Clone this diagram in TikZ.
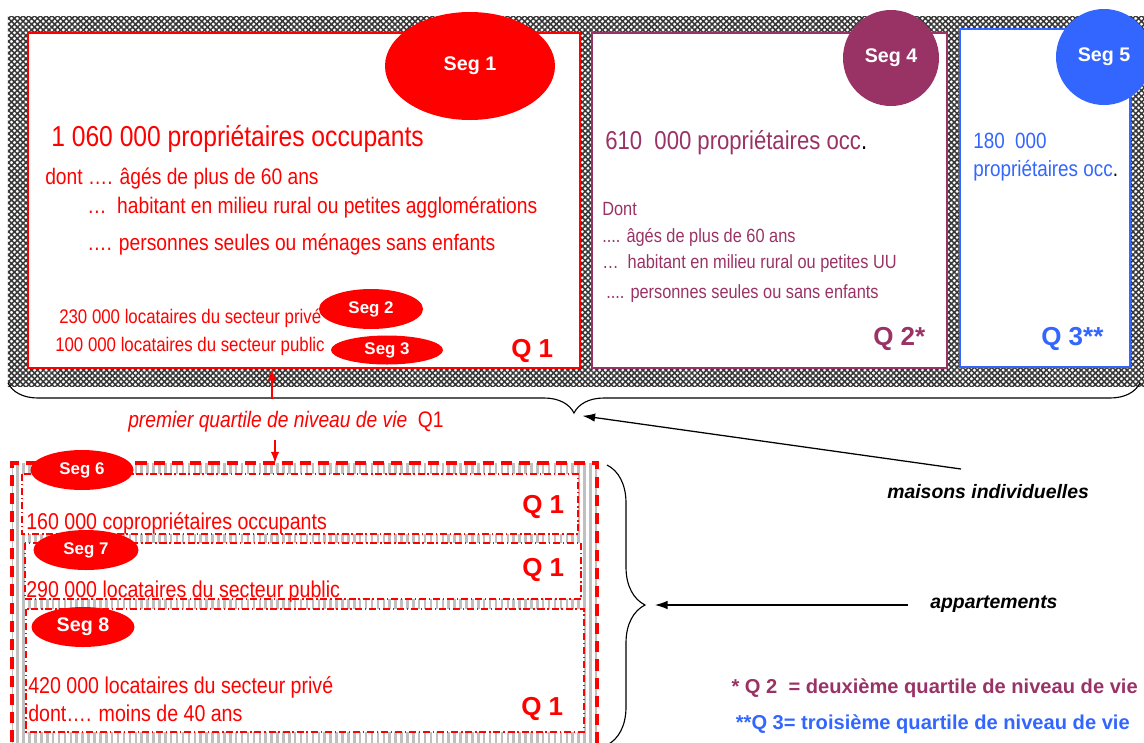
\documentclass[tikz,border=0pt]{standalone}
\usepackage{fontspec}
\setmainfont{Liberation Sans}
\newfontfamily\narrowfont[FakeStretch=0.855]{Liberation Sans}
\usepackage{xcolor}
\usepackage{tikz}
\usetikzlibrary{shapes.geometric,arrows.meta,decorations.pathreplacing,patterns.meta}
\definecolor{segred}{HTML}{FF0000}
\definecolor{segplum}{HTML}{993366}
\definecolor{segblue}{HTML}{3366FF}
\definecolor{stripegray}{HTML}{C0C0C0}
\tikzstyle{seg}=[shape=ellipse, inner sep=0pt, text=white, font=\bfseries]
\tikzstyle{red seg}=[seg, fill=segred]
\tikzstyle{plum seg}=[seg, fill=segplum]
\tikzstyle{blue seg}=[seg, fill=segblue]
\tikzstyle{label}=[anchor=base west, inner sep=0pt]
\tikzstyle{red label}=[label, text=segred]
\tikzstyle{plum label}=[label, text=segplum]
\tikzstyle{blue label}=[label, text=segblue]
\tikzstyle{quartile}=[label, font=\bfseries\fontsize{18.5}{22}\selectfont]
\tikzstyle{house band}=[fill=white, postaction={pattern={Hatch[angle=45, distance=2.9pt, line width=1.1pt]}, pattern color=black!78}]
\tikzstyle{flat band}=[fill=white, postaction={pattern={Lines[angle=90, distance=4.2pt, line width=1.8pt]}, pattern color=stripegray}]
\tikzstyle{flat border}=[draw=segred, line width=2.3pt, dash pattern=on 8pt off 5pt]
\tikzstyle{flat box}=[fill=white, draw=segred, line width=1.2pt, dash pattern=on 5pt off 2pt on 1pt off 2pt]
\tikzstyle{arrow edge}=[-{Latex[length=9pt, width=6pt]}, draw=black, line width=0.9pt]
\tikzstyle{red arrow edge}=[-{Latex[length=8pt, width=6pt]}, draw=segred, line width=0.9pt]
\tikzstyle{brace edge}=[draw=black, line width=0.8pt, decorate]
\pgfdeclarelayer{backlayer}
\pgfdeclarelayer{nodelayer}
\pgfdeclarelayer{edgelayer}
\pgfsetlayers{backlayer,nodelayer,edgelayer,main}

\begin{document}
\begin{tikzpicture}
        	\useasboundingbox (0, 0) rectangle (28.6, -18.55);
        	\begin{pgfonlayer}{backlayer}
        		% maisons individuelles
        		\draw [style=house band, draw=none] (0.2, -0.4) rectangle (28.6, -9.65);
        		\draw [fill=white, draw=segred, line width=1.9pt] (0.7, -0.825) rectangle (14.5, -9.2);
        		\draw [fill=white, draw=segplum, line width=1.5pt] (14.8, -0.825) rectangle (23.675, -9.2);
        		\draw [fill=white, draw=segblue, line width=1.8pt] (24.0, -0.725) rectangle (28.25, -9.175);
        		% appartements
        		\draw [style=flat band, draw=none] (0.3, -11.575) rectangle (14.925, -19.0);
        		\draw [style=flat border] (0.3, -19.0) -- (0.3, -11.575) -- (14.925, -11.575) -- (14.925, -19.0);
        		\draw [style=flat box] (0.55, -11.85) rectangle (14.45, -13.35);
        		\draw [style=flat box] (0.625, -13.575) rectangle (14.525, -14.975);
        		\draw [style=flat box] (0.65, -15.225) rectangle (14.6, -18.3);
        	\end{pgfonlayer}
        	\begin{pgfonlayer}{nodelayer}
        		\node [style=red seg, minimum width=4.25cm, minimum height=2.7cm, font=\bfseries\fontsize{14}{17}\selectfont] (0) at (11.75, -1.65) {Seg 1};
        		\node [style=red seg, minimum width=2.6cm, minimum height=1cm, font=\bfseries\fontsize{12}{14}\selectfont] (1) at (9.275, -7.725) {Seg 2};
        		\node [style=red seg, minimum width=2.8cm, minimum height=0.725cm, font=\bfseries\fontsize{12}{14}\selectfont] (2) at (9.675, -8.75) {Seg 3};
        		\node [style=plum seg, minimum width=2.4cm, minimum height=2.4cm, font=\bfseries\fontsize{14}{17}\selectfont] (3) at (22.275, -1.45) {Seg 4};
        		\node [style=blue seg, minimum width=2.4cm, minimum height=2.4cm, font=\bfseries\fontsize{14}{17}\selectfont] (4) at (27.6, -1.425) {Seg 5};
        		\node [style=red seg, minimum width=2.575cm, minimum height=1cm, font=\bfseries\fontsize{12}{14}\selectfont] (5) at (2.05, -11.75) {Seg 6};
        		\node [style=red seg, minimum width=2.625cm, minimum height=1cm, font=\bfseries\fontsize{12}{14}\selectfont] (6) at (2.15, -13.75) {Seg 7};
        		\node [style=red seg, minimum width=2.575cm, minimum height=1cm, font=\bfseries\fontsize{14}{17}\selectfont] (7) at (2.075, -15.675) {Seg 8};

        		\node [style=red label, font=\narrowfont\fontsize{20.5}{24}\selectfont] (10) at (1.275, -3.65) {1 060 000 propriétaires occupants};
        		\node [style=red label, font=\narrowfont\fontsize{16}{19}\selectfont] (11) at (1.125, -4.6) {dont …. âgés de plus de 60 ans};
        		\node [style=red label, font=\narrowfont\fontsize{16}{19}\selectfont] (12) at (2.175, -5.325) {…~ habitant en milieu rural ou petites agglomérations};
        		\node [style=red label, font=\narrowfont\fontsize{16}{19}\selectfont] (13) at (2.175, -6.25) {…. personnes seules ou ménages sans enfants};
        		\node [style=red label, font=\narrowfont\fontsize{14}{17}\selectfont] (14) at (1.475, -8.075) {230 000 locataires du secteur privé};
        		\node [style=red label, font=\narrowfont\fontsize{14}{17}\selectfont] (15) at (1.375, -8.775) {100 000 locataires du secteur public};
        		\node [style=quartile, text=segred] (16) at (12.775, -8.925) {Q 1};

        		\node [style=plum label, font=\narrowfont\fontsize{18.4}{22}\selectfont] (20) at (15.125, -3.725) {610~~000 propriétaires occ{\color{black}.}};
        		\node [style=plum label, font=\narrowfont\fontsize{13.6}{16}\selectfont] (21) at (15.05, -5.375) {Dont};
        		\node [style=plum label, font=\narrowfont\fontsize{13.6}{16}\selectfont] (22) at (15.05, -6.05) {.... âgés de plus de 60 ans};
        		\node [style=plum label, font=\narrowfont\fontsize{13.6}{16}\selectfont] (23) at (15.05, -6.7) {…~ habitant en milieu rural ou petites UU};
        		\node [style=plum label, font=\narrowfont\fontsize{13.6}{16}\selectfont] (24) at (15.15, -7.45) {.... personnes seules ou sans enfants};
        		\node [style=quartile, text=segplum] (25) at (21.825, -8.625) {Q 2*};

        		\node [style=blue label, font=\narrowfont\fontsize{15.7}{19}\selectfont] (30) at (24.325, -3.7) {180~~000};
        		\node [style=blue label, font=\narrowfont\fontsize{15.7}{19}\selectfont] (31) at (24.325, -4.4) {propriétaires occ{\color{black}.}};
        		\node [style=quartile, text=segblue] (32) at (26.025, -8.625) {Q 3**};

        		\node [style=red label, font=\narrowfont\fontsize{16}{19}\selectfont] (40) at (3.2, -10.675) {\itshape premier quartile de niveau de vie~ \upshape Q1};

        		\node [style=red label, font=\narrowfont\fontsize{16.3}{19}\selectfont] (50) at (0.65, -13.225) {160 000 copropriétaires occupants};
        		\node [style=quartile, text=segred] (51) at (13.05, -12.825) {Q 1};
        		\node [style=red label, font=\narrowfont\fontsize{16.3}{19}\selectfont] (52) at (0.65, -14.925) {290 000 locataires du secteur public};
        		\node [style=quartile, text=segred] (53) at (13.05, -14.4) {Q 1};
        		\node [style=red label, font=\narrowfont\fontsize{16.3}{19}\selectfont] (54) at (0.7, -17.325) {420 000 locataires du secteur privé};
        		\node [style=red label, font=\narrowfont\fontsize{16.3}{19}\selectfont] (55) at (0.7, -18.025) {dont…. moins de 40 ans};
        		\node [style=quartile, text=segred] (56) at (13.025, -17.875) {Q 1};

        		\node [style=label, font=\bfseries\itshape\fontsize{13.8}{17}\selectfont] (60) at (22.175, -12.45) {maisons individuelles};
        		\node [style=label, font=\bfseries\itshape\fontsize{13.8}{17}\selectfont] (61) at (23.25, -15.2) {appartements};
        		\node [style=label, anchor=base east, text=segplum, font=\bfseries\fontsize{14.3}{17}\selectfont] (62) at (28.45, -17.325) {* Q 2~ = deuxième quartile de niveau de vie};
        		\node [style=label, anchor=base east, text=segblue, font=\bfseries\fontsize{14.3}{17}\selectfont] (63) at (28.25, -18.225) {**Q 3= troisième quartile de niveau de vie};

        		\coordinate (70) at (14.35, -10.325);
        		\coordinate (71) at (16.125, -15.125);
        		\coordinate (72) at (24.025, -11.725);
        		\coordinate (73) at (22.7, -15.125);
        		\coordinate (74) at (6.8, -9.975);
        		\coordinate (75) at (6.8, -9.225);
        		\coordinate (76) at (6.875, -11.0);
        		\coordinate (77) at (6.875, -11.575);
        	\end{pgfonlayer}
        	\begin{pgfonlayer}{edgelayer}
        		\draw [style=brace edge, decoration={brace, amplitude=0.75cm}] (28.5, -9.575) to (0.2, -9.575);
        		\draw [style=brace edge, decoration={brace, amplitude=0.95cm}] (15.175, -11.625) to (15.175, -18.625);
        		\draw [style=arrow edge] (72) to ([xshift=6pt, yshift=-2pt]70);
        		\draw [style=arrow edge] (73) to ([xshift=7pt]71);
        		\draw [style=red arrow edge] (74) to (75);
        		\draw [style=red arrow edge] (76) to (77);
        	\end{pgfonlayer}
        \end{tikzpicture}
\end{document}
